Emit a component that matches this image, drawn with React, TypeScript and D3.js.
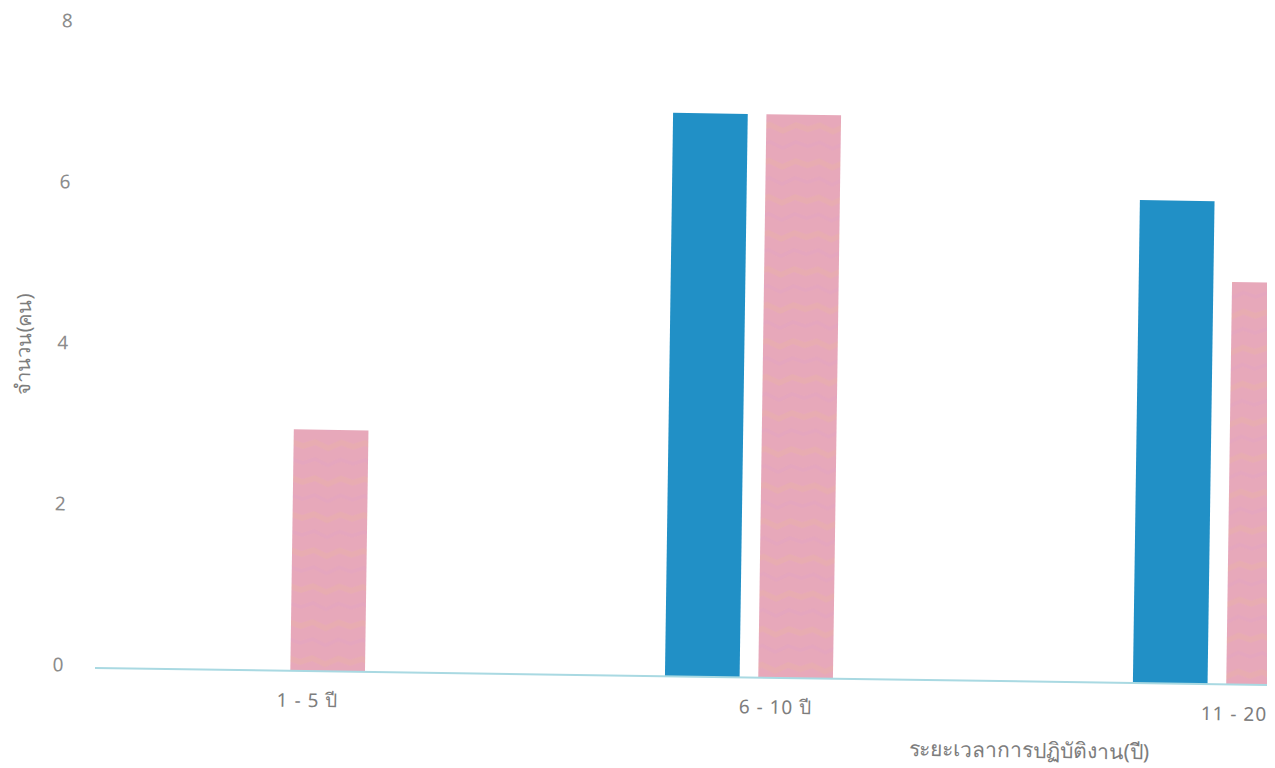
import React from "react";
import * as d3 from "d3";

const categories = ["1 - 5 ปี", "6 - 10 ปี", "11 - 20 ปี"];
const seriesKeys = ["blue", "pink"];
const blueValues = [0, 7, 6];
const pinkValues = [3, 7, 5];
const yTicks = [0, 2, 4, 6, 8];
const xTitle = "ระยะเวลาการปฏิบัติงาน(ปี)";
const yTitle = "จำนวน(คน)";

const W = 1275;
const H = 768;
const FONT = "'Noto Sans', 'DejaVu Sans', sans-serif";

export default function App() {
  const x = d3.scaleBand<string>().domain(categories).range([47, 47 + 3 * 468]).padding(0);
  const inner = d3
    .scaleBand<string>()
    .domain(seriesKeys)
    .range([-84, 84])
    .paddingInner(0.2)
    .paddingOuter(0);
  const y = d3.scaleLinear().domain([0, 8]).range([668, 24]);
  const colors: Record<string, string> = { blue: "#2190c6", pink: "#e8a9b8" };
  const data: Record<string, number[]> = { blue: blueValues, pink: pinkValues };

  return (
    <svg
      width={W}
      height={H}
      style={{ position: "absolute", left: 0, top: 0, background: "#fff" }}
    >
      <defs>
        <clipPath id="clip">
          <rect x={0} y={0} width={1267} height={H} />
        </clipPath>
        <pattern id="pinkPat" width="50" height="36" patternUnits="userSpaceOnUse">
          <rect width="50" height="36" fill="#e7a8ba" />
          <path d="M0 8 L12 4 L25 10 L38 4 L50 8 L50 14 L38 10 L25 16 L12 10 L0 14 Z" fill="#eab2a6" opacity="0.45" />
          <path d="M0 26 L12 22 L25 28 L38 22 L50 26 L50 30 L38 26 L25 32 L12 26 L0 30 Z" fill="#e2a3c2" opacity="0.4" />
        </pattern>
      </defs>
      <g clipPath="url(#clip)">
        <g transform="rotate(0.83, 95, 668)">
          {yTicks.map((t) => (
            <text
              key={t}
              x={58}
              y={y(t)}
              dy="0.2em"
              textAnchor="middle"
              fontFamily={FONT}
              fontSize={19}
              fill="#8c8c8c"
            >
              {t}
            </text>
          ))}
          {categories.map((c, i) =>
            seriesKeys.map((k) => {
              const v = data[k][i];
              const cx = (x(c) as number) + x.bandwidth() / 2;
              return (
                <rect
                  key={c + k}
                  x={cx + (inner(k) as number)}
                  y={y(v)}
                  width={inner.bandwidth()}
                  height={y(0) - y(v)}
                  fill={k === "pink" ? "url(#pinkPat)" : colors[k]}
                />
              );
            })
          )}
          <line x1={95} x2={1300} y1={y(0)} y2={y(0)} stroke="#a9d9e2" strokeWidth={2} />
          {categories.map((c) => (
            <text
              key={c}
              x={(x(c) as number) + x.bandwidth() / 2 + 27}
              y={704}
              textAnchor="middle"
              fontFamily={FONT}
              fontSize={19}
              letterSpacing={1}
              fill="#7d7d7d"
            >
              {c}
            </text>
          ))}
          <text
            x={1030}
            y={744}
            textAnchor="middle"
            fontFamily={FONT}
            fontSize={21}
            fill="#7d7d7d"
          >
            {xTitle}
          </text>
          <text
            transform="translate(26, 345) rotate(-90)"
            textAnchor="middle"
            fontFamily={FONT}
            fontSize={20}
            fill="#7d7d7d"
          >
            {yTitle}
          </text>
        </g>
      </g>
    </svg>
  );
}
